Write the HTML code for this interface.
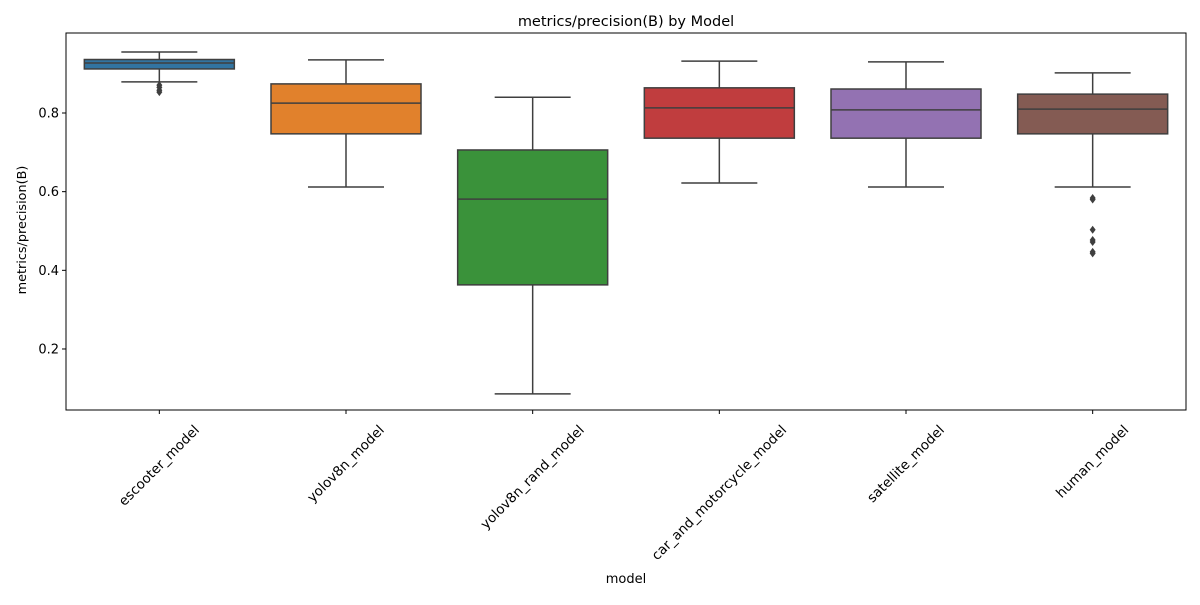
<!DOCTYPE html>
<html><head><meta charset="utf-8"><style>body{margin:0;background:#fff}svg{font-family:"DejaVu Sans","Liberation Sans",sans-serif}</style></head>
<body>
<svg id="chart" width="1200" height="600" viewBox="0 0 1200 600" xmlns="http://www.w3.org/2000/svg">
<rect width="1200" height="600" fill="#fff"/>
<text x="626" y="26" font-size="14.5" text-anchor="middle">metrics/precision(B) by Model</text>
<g id="plot"></g>
<rect x="66" y="33" width="1120" height="377" fill="none" stroke="#000" stroke-width="1"/>
<text x="626" y="583" font-size="13" text-anchor="middle">model</text>
<text transform="translate(26,230) rotate(-90)" font-size="12.8" text-anchor="middle">metrics/precision(B)</text>
</svg>
<script>
const categories=["escooter_model","yolov8n_model","yolov8n_rand_model","car_and_motorcycle_model","satellite_model","human_model"];
const whiskerHigh=[0.955,0.935,0.84,0.932,0.93,0.902];
const q3=[0.936,0.874,0.706,0.864,0.861,0.848];
const median=[0.927,0.825,0.581,0.813,0.808,0.81];
const q1=[0.912,0.747,0.363,0.736,0.736,0.747];
const whiskerLow=[0.879,0.612,0.086,0.622,0.612,0.612];
const outliers=[[0.871,0.865,0.858,0.853],[],[],[],[],[0.584,0.58,0.503,0.477,0.472,0.447,0.443]];
const yTicks=[0.2,0.4,0.6,0.8];
const colors=["#3274a1","#e1812c","#3a923a","#c03d3e","#9372b2","#845b53"];
const NS="http://www.w3.org/2000/svg";
const g=document.getElementById('plot');
const left=66,right=1186;
function y(v){return 113+(0.8-v)*393.3;}
function x(i){return left+(right-left)/categories.length*(i+0.5);}
function mk(tag,attrs,parent){const e=document.createElementNS(NS,tag);for(const k in attrs)e.setAttribute(k,attrs[k]);(parent||g).appendChild(e);return e;}
yTicks.forEach(t=>{
  const l=mk('line',{x1:left-4,x2:left,y1:y(t),y2:y(t),stroke:'#000'});
  
  
  const tx=mk('text',{x:left-7,y:y(t)+4.5,'font-size':13,'text-anchor':'end'});
  
  
  tx.textContent=t.toFixed(1);
});
const bw=150,cw=38,lc='#3f3f3f';
categories.forEach((c,i)=>{
  const cx=x(i);
  const grp=mk('g',{});
  
  
  mk('line',{x1:cx,x2:cx,y1:y(whiskerHigh[i]),y2:y(q3[i]),stroke:lc,'stroke-width':1.5},grp);
  mk('line',{x1:cx,x2:cx,y1:y(q1[i]),y2:y(whiskerLow[i]),stroke:lc,'stroke-width':1.5},grp);
  mk('line',{x1:cx-cw,x2:cx+cw,y1:y(whiskerHigh[i]),y2:y(whiskerHigh[i]),stroke:lc,'stroke-width':1.5},grp);
  mk('line',{x1:cx-cw,x2:cx+cw,y1:y(whiskerLow[i]),y2:y(whiskerLow[i]),stroke:lc,'stroke-width':1.5},grp);
  mk('rect',{x:cx-bw/2,y:y(q3[i]),width:bw,height:y(q1[i])-y(q3[i]),fill:colors[i],stroke:lc,'stroke-width':1.5},grp);
  mk('line',{x1:cx-bw/2,x2:cx+bw/2,y1:y(median[i]),y2:y(median[i]),stroke:lc,'stroke-width':1.5},grp);
  outliers[i].forEach(o=>{
    const d=mk('path',{d:`M${cx},${y(o)-4}L${cx+3},${y(o)}L${cx},${y(o)+4}L${cx-3},${y(o)}Z`,fill:lc},grp);
    
    
  });
  const tk=mk('line',{x1:cx,x2:cx,y1:410,y2:414,stroke:'#000'});
  
  
  const tx=mk('text',{'font-size':13.5,'text-anchor':'middle','dominant-baseline':'central'});
  
  
  tx.textContent=c;
  const L=tx.getComputedTextLength();
  const cy=423+(L+14)*0.7071/2;
  tx.setAttribute('transform',`translate(${cx},${cy}) rotate(-45)`);
});
</script>
</body></html>
